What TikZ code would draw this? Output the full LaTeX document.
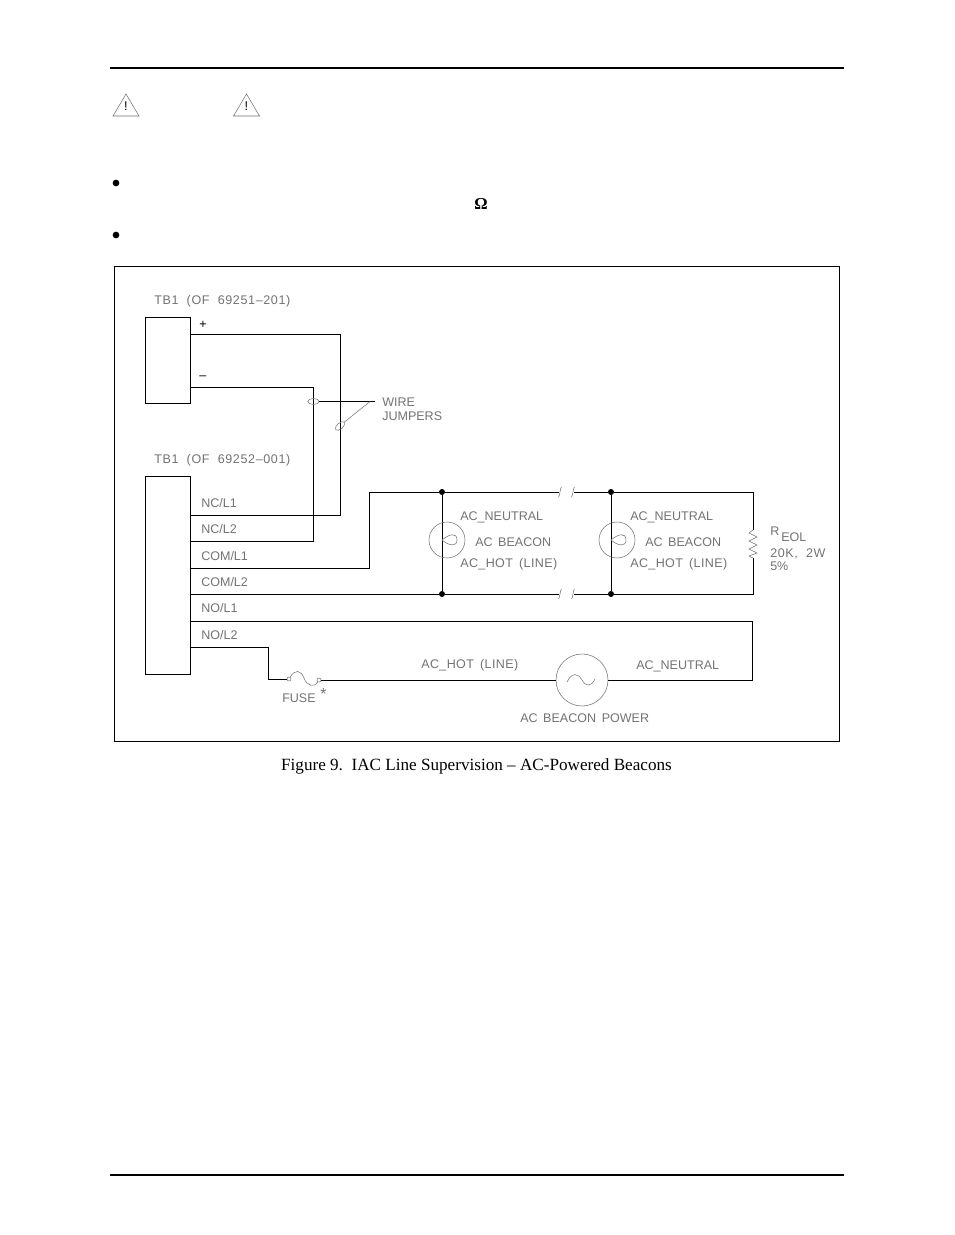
\documentclass[tikz,border=0pt]{standalone}
\usepackage{fontspec}
\setmainfont{Liberation Serif}
\newfontfamily\cadfont[WordSpace=1.6]{Liberation Sans}
\newfontfamily\cadmid[WordSpace=1.6,LetterSpace=3]{Liberation Sans}
\newfontfamily\cadwide[WordSpace=2,LetterSpace=5]{Liberation Sans}
\usetikzlibrary{shapes}
\definecolor{cadgray}{gray}{0.45}
\tikzset{
  wire/.style={line width=0.75pt},
  thin wire/.style={draw=cadgray,line width=0.4pt},
  rule/.style={line width=1.5pt},
  lbl/.style={anchor=west,inner sep=0pt,text=cadgray,text height=6.7pt,text depth=0pt,font=\cadfont\fontsize{9.4}{11}\selectfont},
  tb lbl/.style={lbl,font=\cadwide\fontsize{9.4}{11}\selectfont},
  hot lbl/.style={lbl,font=\cadmid\fontsize{9.4}{11}\selectfont},
  tbbox/.style={draw,line width=0.75pt,anchor=north west,minimum width=33.75pt,inner sep=0pt},
  joint/.style={circle,fill=black,inner sep=0pt,minimum size=4.5pt},
  bullet/.style={circle,fill=black,inner sep=0pt,minimum size=5pt},
  beacon/.style={circle,thin wire,inner sep=0pt,minimum size=27pt},
  clip end/.style={circle,thin wire,inner sep=0pt,minimum size=3pt},
}
\begin{document}
\begin{tikzpicture}[x=0.75pt,y=-0.75pt]
        \useasboundingbox[fill=white] (0,0) rectangle (954,1235);

        \coordinate (topl) at (110,68);
        \coordinate (topr) at (844,68);
        \coordinate (botl) at (110,1175);
        \coordinate (botr) at (844,1175);
        \draw[rule] (topl) -- (topr);
        \draw[rule] (botl) -- (botr);

        \foreach \tx in {113,233.5}{
            \draw[thin wire] (\tx,116) -- (\tx+13,94) -- (\tx+26,116) -- cycle;
            \node[inner sep=0pt,font=\cadfont\fontsize{9.5}{11}\selectfont] at (\tx+13,106.5) {!};
        }
        \node[bullet] (bull1) at (116,183) {};
        \node[bullet] (bull2) at (116,235) {};
        \node[inner sep=0pt,font=\bfseries\fontsize{12.5}{14}\selectfont] (ohm) at (481,204) {Ω};

        \draw[line width=0.75pt] (114,266) rectangle (839,741);
        \node[] (caption) at (476.5,766) {\fontsize{12.85}{15}\selectfont Figure 9.\ \ IAC Line Supervision -- AC-Powered Beacons};

        \node[tbbox,minimum height=64.5pt] (tb1) at (145,317) {};
        \node[tbbox,minimum height=148.5pt] (tb2) at (145,476) {};
        \node[tb lbl] (tb1_lbl) at (154,300.5) {TB1 (OF 69251–201)};
        \node[tb lbl] (tb2_lbl) at (154,459.5) {TB1 (OF 69252–001)};
        \node[lbl,text=black] (plus) at (199,324) {+};
        \node[lbl,text=black] (minus) at (199,375) {–};
        \node[lbl] (nc1) at (201,503) {NC/L1};
        \node[lbl] (nc2) at (201,529) {NC/L2};
        \node[lbl] (com1) at (201,556) {COM/L1};
        \node[lbl] (com2) at (201,582) {COM/L2};
        \node[lbl] (no1) at (201,608.5) {NO/L1};
        \node[lbl] (no2) at (201,635) {NO/L2};

        % jumpers
        \coordinate (p1) at (190,334);
        \coordinate (p2) at (340,334);
        \coordinate (p3) at (340,515);
        \coordinate (p4) at (190,515);
        \coordinate (m1) at (190,387);
        \coordinate (m2) at (313.5,387);
        \coordinate (m3) at (313.5,541);
        \coordinate (m4) at (190,541);
        \draw[wire] (p1) -- (p2) -- (p3) -- (p4);
        \draw[wire] (m1) -- (m2) -- (m3) -- (m4);
        \node[draw=cadgray,line width=0.4pt,ellipse,inner sep=0pt,minimum width=8.5pt,minimum height=4.5pt] (jump1) at (313.5,401.5) {};
        \node[draw=cadgray,line width=0.4pt,ellipse,inner sep=0pt,minimum width=8.5pt,minimum height=4.5pt,rotate=42] (jump2) at (340,426) {};
        \coordinate (jump_r) at (375,401.5);
        \coordinate (jump_m) at (370,401.5);
        \draw[wire] (jump1.east) -- (jump_r);
        \draw[thin wire] (jump_m) -- (jump2.east);
        \node[lbl] (wire_lbl) at (382,402) {WIRE};
        \node[lbl] (jumpers_lbl) at (382,416.5) {JUMPERS};

        % beacon loop
        \node[joint] (d1) at (442,492) {};
        \node[joint] (d2) at (442,594) {};
        \node[joint] (d3) at (611,492) {};
        \node[joint] (d4) at (611,594) {};
        \coordinate (c1) at (190,568);
        \coordinate (c2) at (369,568);
        \coordinate (c3) at (369,492);
        \coordinate (c4) at (190,594);
        \coordinate (b1) at (559,492);
        \coordinate (b2) at (574,492);
        \coordinate (b3) at (559,594);
        \coordinate (b4) at (574,594);
        \coordinate (r1) at (753,492);
        \coordinate (r2) at (753,594);
        \coordinate (r_top) at (753,530);
        \coordinate (r_bot) at (753,558);
        \draw[wire] (c1) -- (c2) -- (c3) -- (d1) -- (b1);
        \draw[wire] (b2) -- (d3) -- (r1) -- (r_top);
        \draw[wire] (c4) -- (d2) -- (b3);
        \draw[wire] (b4) -- (d4) -- (r2) -- (r_bot);
        \draw[wire] (d1) -- (d2);
        \draw[wire] (d3) -- (d4);
        \foreach \bx in {560,573}{
            \foreach \by in {492,594}{
                \draw[thin wire] (\bx-1.5,\by+5) .. controls (\bx,\by+4) and (\bx,\by-4) .. (\bx+1.5,\by-5);
            }
        }
        \draw[thin wire] (r_top) -- (749,533) -- (757,537) -- (749,541) -- (757,545) -- (749,549) -- (757,553) -- (749,556) -- (r_bot);

        \node[beacon] (lamp1) at (447,540) {};
        \node[beacon] (lamp2) at (617,540) {};
        \foreach \lx in {442,611}{
            \draw[thin wire] (\lx,540) .. controls (\lx+7,534) and (\lx+15,532) .. (\lx+15,540) .. controls (\lx+15,547) and (\lx+7,546) .. (\lx,540);
        }
        \node[lbl] (neu1) at (460,516) {AC\_NEUTRAL};
        \node[lbl] (bea1) at (475,542) {AC BEACON};
        \node[hot lbl] (hot1) at (460,563) {AC\_HOT (LINE)};
        \node[lbl] (neu2) at (630,516) {AC\_NEUTRAL};
        \node[lbl] (bea2) at (645,542) {AC BEACON};
        \node[hot lbl] (hot2) at (630,563) {AC\_HOT (LINE)};

        \node[lbl] (r_lbl) at (770,531) {R};
        \node[lbl] (eol_lbl) at (781,537) {EOL};
        \node[tb lbl] (val_lbl) at (770,553) {20K, 2W};
        \node[lbl] (tol_lbl) at (770,566) {5\%};

        % power loop
        \node[beacon,minimum size=39pt] (pow) at (582,680) {};
        \node[clip end] (f1) at (289,679) {};
        \node[clip end] (f2) at (319,680) {};
        \coordinate (n1) at (190,621);
        \coordinate (n2) at (752,621);
        \coordinate (n3) at (752,680);
        \coordinate (l1) at (190,647);
        \coordinate (l2) at (268,647);
        \coordinate (l3) at (268,679);
        \draw[wire] (n1) -- (n2) -- (n3) -- (pow.east);
        \draw[wire] (l1) -- (l2) -- (l3) -- (f1.west);
        \draw[wire] (f2.east) -- (pow.west);
        \draw[thin wire] (f1) .. controls (295,669) and (301,670) .. (304,678) .. controls (307,686) and (314,688) .. (f2);
        \draw[thin wire] (567,682) .. controls (572,672) and (578,673) .. (582,680) .. controls (586,687) and (591,687) .. (595,679);
        \node[lbl] (fuse_lbl) at (282,698) {FUSE};
        \node[lbl,font=\cadfont\fontsize{12}{12}\selectfont] (star) at (320,695) {*};
        \node[hot lbl] (hot3) at (421,664) {AC\_HOT (LINE)};
        \node[lbl] (neu3) at (636,665) {AC\_NEUTRAL};
        \node[lbl] (pow_lbl) at (520,718) {AC BEACON POWER};
\end{tikzpicture}
\end{document}
